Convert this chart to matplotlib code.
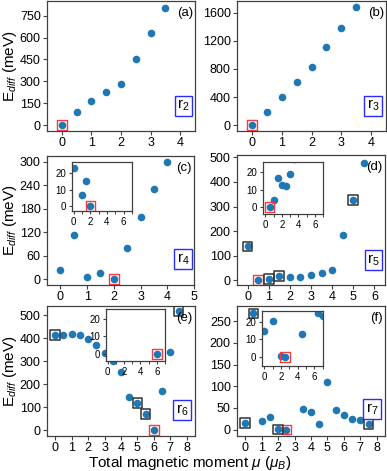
import matplotlib
matplotlib.use("Agg")
import matplotlib.pyplot as plt
from matplotlib.ticker import MultipleLocator

plt.rcParams['font.family'] = ['Liberation Sans', 'DejaVu Sans']
plt.rcParams['mathtext.fontset'] = 'custom'
plt.rcParams['mathtext.rm'] = 'Liberation Sans'
plt.rcParams['mathtext.it'] = 'Liberation Sans:italic'

# ---- data ----
mu_a = [0, 0.5, 1, 1.5, 2, 2.5, 3, 3.5]
e_a = [0, 90, 165, 228, 280, 455, 628, 800]

mu_b = [0, 0.5, 1, 1.5, 2, 2.5, 3, 3.5]
e_b = [0, 190, 400, 610, 830, 1110, 1390, 1680]

mu_c = [0, 0.5, 1, 1.5, 2, 2.5, 3, 3.5, 4]
e_c = [23.5, 113, 6.5, 15.5, 0, 80, 158, 230, 300]

mu_d = [0, 0.5, 1, 1.5, 2, 2.5, 3, 3.5, 4, 4.5, 5, 5.5]
e_d = [137, 0, 4, 17, 13, 12, 18.8, 28, 43, 185, 327, 477]

mu_e = [0, 0.5, 1, 1.5, 2, 2.5, 3, 3.5, 4, 4.5, 5, 5.5, 6, 6.5, 7, 7.5]
e_e = [415, 415, 418, 413, 398, 372, 335, 300, 255, 143, 119, 70, 0, 170, 342, 518]

mu_f = [0, 0.5, 1, 1.5, 2, 2.5, 3.5, 4, 4.5, 5, 5.5, 6, 6.5, 7, 7.5]
e_f = [14.5, 268, 20.5, 28, 0.4, 0, 48, 40, 13, 110, 44, 34, 25, 23, 12]

# lowest state (red box) and marked states (black box)
red_a, red_b, red_c = [0], [0], [2]
red_d, red_e, red_f = [0.5], [6], [2.5]
black_d = [0, 1, 1.5, 5]
black_e = [0, 5, 5.5, 7.5]
black_f = [0, 0.5, 2, 7.5]

panel_labels = ["(a)", "(b)", "(c)", "(d)", "(e)", "(f)"]
ring_labels = [r"r$_2$", r"r$_3$", r"r$_4$", r"r$_5$", r"r$_6$", r"r$_7$"]

W, H = 387, 471
DOT = '#1f77b4'
FRAME = '#404040'


def px_axes(fig, l, t, r, b):
    return fig.add_axes([l / W, 1 - b / H, (r - l) / W, (b - t) / H])


def style(ax, fs):
    for s in ax.spines.values():
        s.set_color(FRAME)
        s.set_linewidth(0.9)
    ax.tick_params(direction='out', length=3, width=0.8, labelsize=fs,
                   pad=1.5, color=FRAME)
    ax.tick_params(which='minor', direction='out', length=2, width=0.7, color=FRAME)


def boxed(ax, mu, e, keys, color, lw):
    xs = [m for m in mu if m in keys]
    ys = [v for m, v in zip(mu, e) if m in keys]
    ax.scatter(xs, ys, marker='s', s=48, facecolors='none', edgecolors=color,
               linewidths=lw, zorder=3)


def draw(ax, mu, e, red, black, fs=9):
    ax.scatter(mu, e, s=30, color=DOT, zorder=2, linewidths=0)
    boxed(ax, mu, e, red, '#f03c3c', 1.0)
    if black:
        boxed(ax, mu, e, black, '#333333', 1.1)
    style(ax, fs)


fig = plt.figure(figsize=(W / 100, H / 100), dpi=100)

boxes = [(47, 1, 195, 131), (237, 1, 386, 131),
         (47, 156, 194, 285), (237, 155, 385, 285),
         (47, 306, 195, 436), (237, 306, 385, 436)]
series = [(mu_a, e_a, red_a, None), (mu_b, e_b, red_b, None),
          (mu_c, e_c, red_c, None), (mu_d, e_d, red_d, black_d),
          (mu_e, e_e, red_e, black_e), (mu_f, e_f, red_f, black_f)]
xlims = [(-0.5, 4.5), (-0.5, 4.5), (-0.5, 5), (-0.5, 6.5), (-0.5, 8.5), (-0.5, 8.5)]
ylims = [(-40, 850), (-85, 1770), (-15, 315), (-20, 510), (-25, 540), (-15, 285)]
ysteps = [150, 400, 60, 100, 100, 50]
ring_pos = [(0.92, 0.196), (0.913, 0.196), (0.925, 0.198),
            (0.924, 0.19), (0.912, 0.2), (0.912, 0.205)]

axes = []
for i, (bx, (mu, e, red, black)) in enumerate(zip(boxes, series)):
    ax = px_axes(fig, *bx)
    draw(ax, mu, e, red, black)
    ax.set_xlim(*xlims[i])
    ax.set_ylim(*ylims[i])
    ax.xaxis.set_major_locator(MultipleLocator(1))
    ax.yaxis.set_major_locator(MultipleLocator(ysteps[i]))
    ax.text(0.985, 0.91, panel_labels[i], transform=ax.transAxes,
            ha='right', va='center', fontsize=9.5)
    ax.text(ring_pos[i][0], ring_pos[i][1], ring_labels[i], transform=ax.transAxes,
            ha='center', va='center', fontsize=11,
            bbox=dict(boxstyle='square,pad=0.15', fc='white', ec='#2b2bff', lw=1.0))
    if i % 2 == 0:
        ax.set_ylabel(r"E$_{diff}$ (meV)", fontsize=11)
        ax.yaxis.set_label_coords(-0.19, 0.5)
    axes.append(ax)

# insets zoomed to the low-energy region
insets = [((72, 162, 132, 211), 2, (-0.2, 7), (-3, 27)),
          ((263, 162, 323, 214), 3, (-0.3, 7), (-4, 26)),
          ((106, 309, 165, 361), 4, (-0.2, 7), (-4, 25.5)),
          ((262, 311, 323, 366), 5, (-0.3, 7.05), (-5, 26))]
for bx, k, xl, yl in insets:
    mu, e, red, black = series[k]
    ins = px_axes(fig, *bx)
    draw(ins, mu, e, red, None, fs=7)
    ins.set_xlim(*xl)
    ins.set_ylim(*yl)
    ins.xaxis.set_major_locator(MultipleLocator(2))
    ins.xaxis.set_minor_locator(MultipleLocator(1))
    ins.yaxis.set_major_locator(MultipleLocator(10))
    ins.tick_params(length=2.5, pad=1.5)

fig.text(0.49, 1 - 467.5 / H, r"Total magnetic moment $\mu$ ($\mu_B$)",
         ha='center', va='baseline', fontsize=11)

fig.savefig("out.png", dpi=100)
